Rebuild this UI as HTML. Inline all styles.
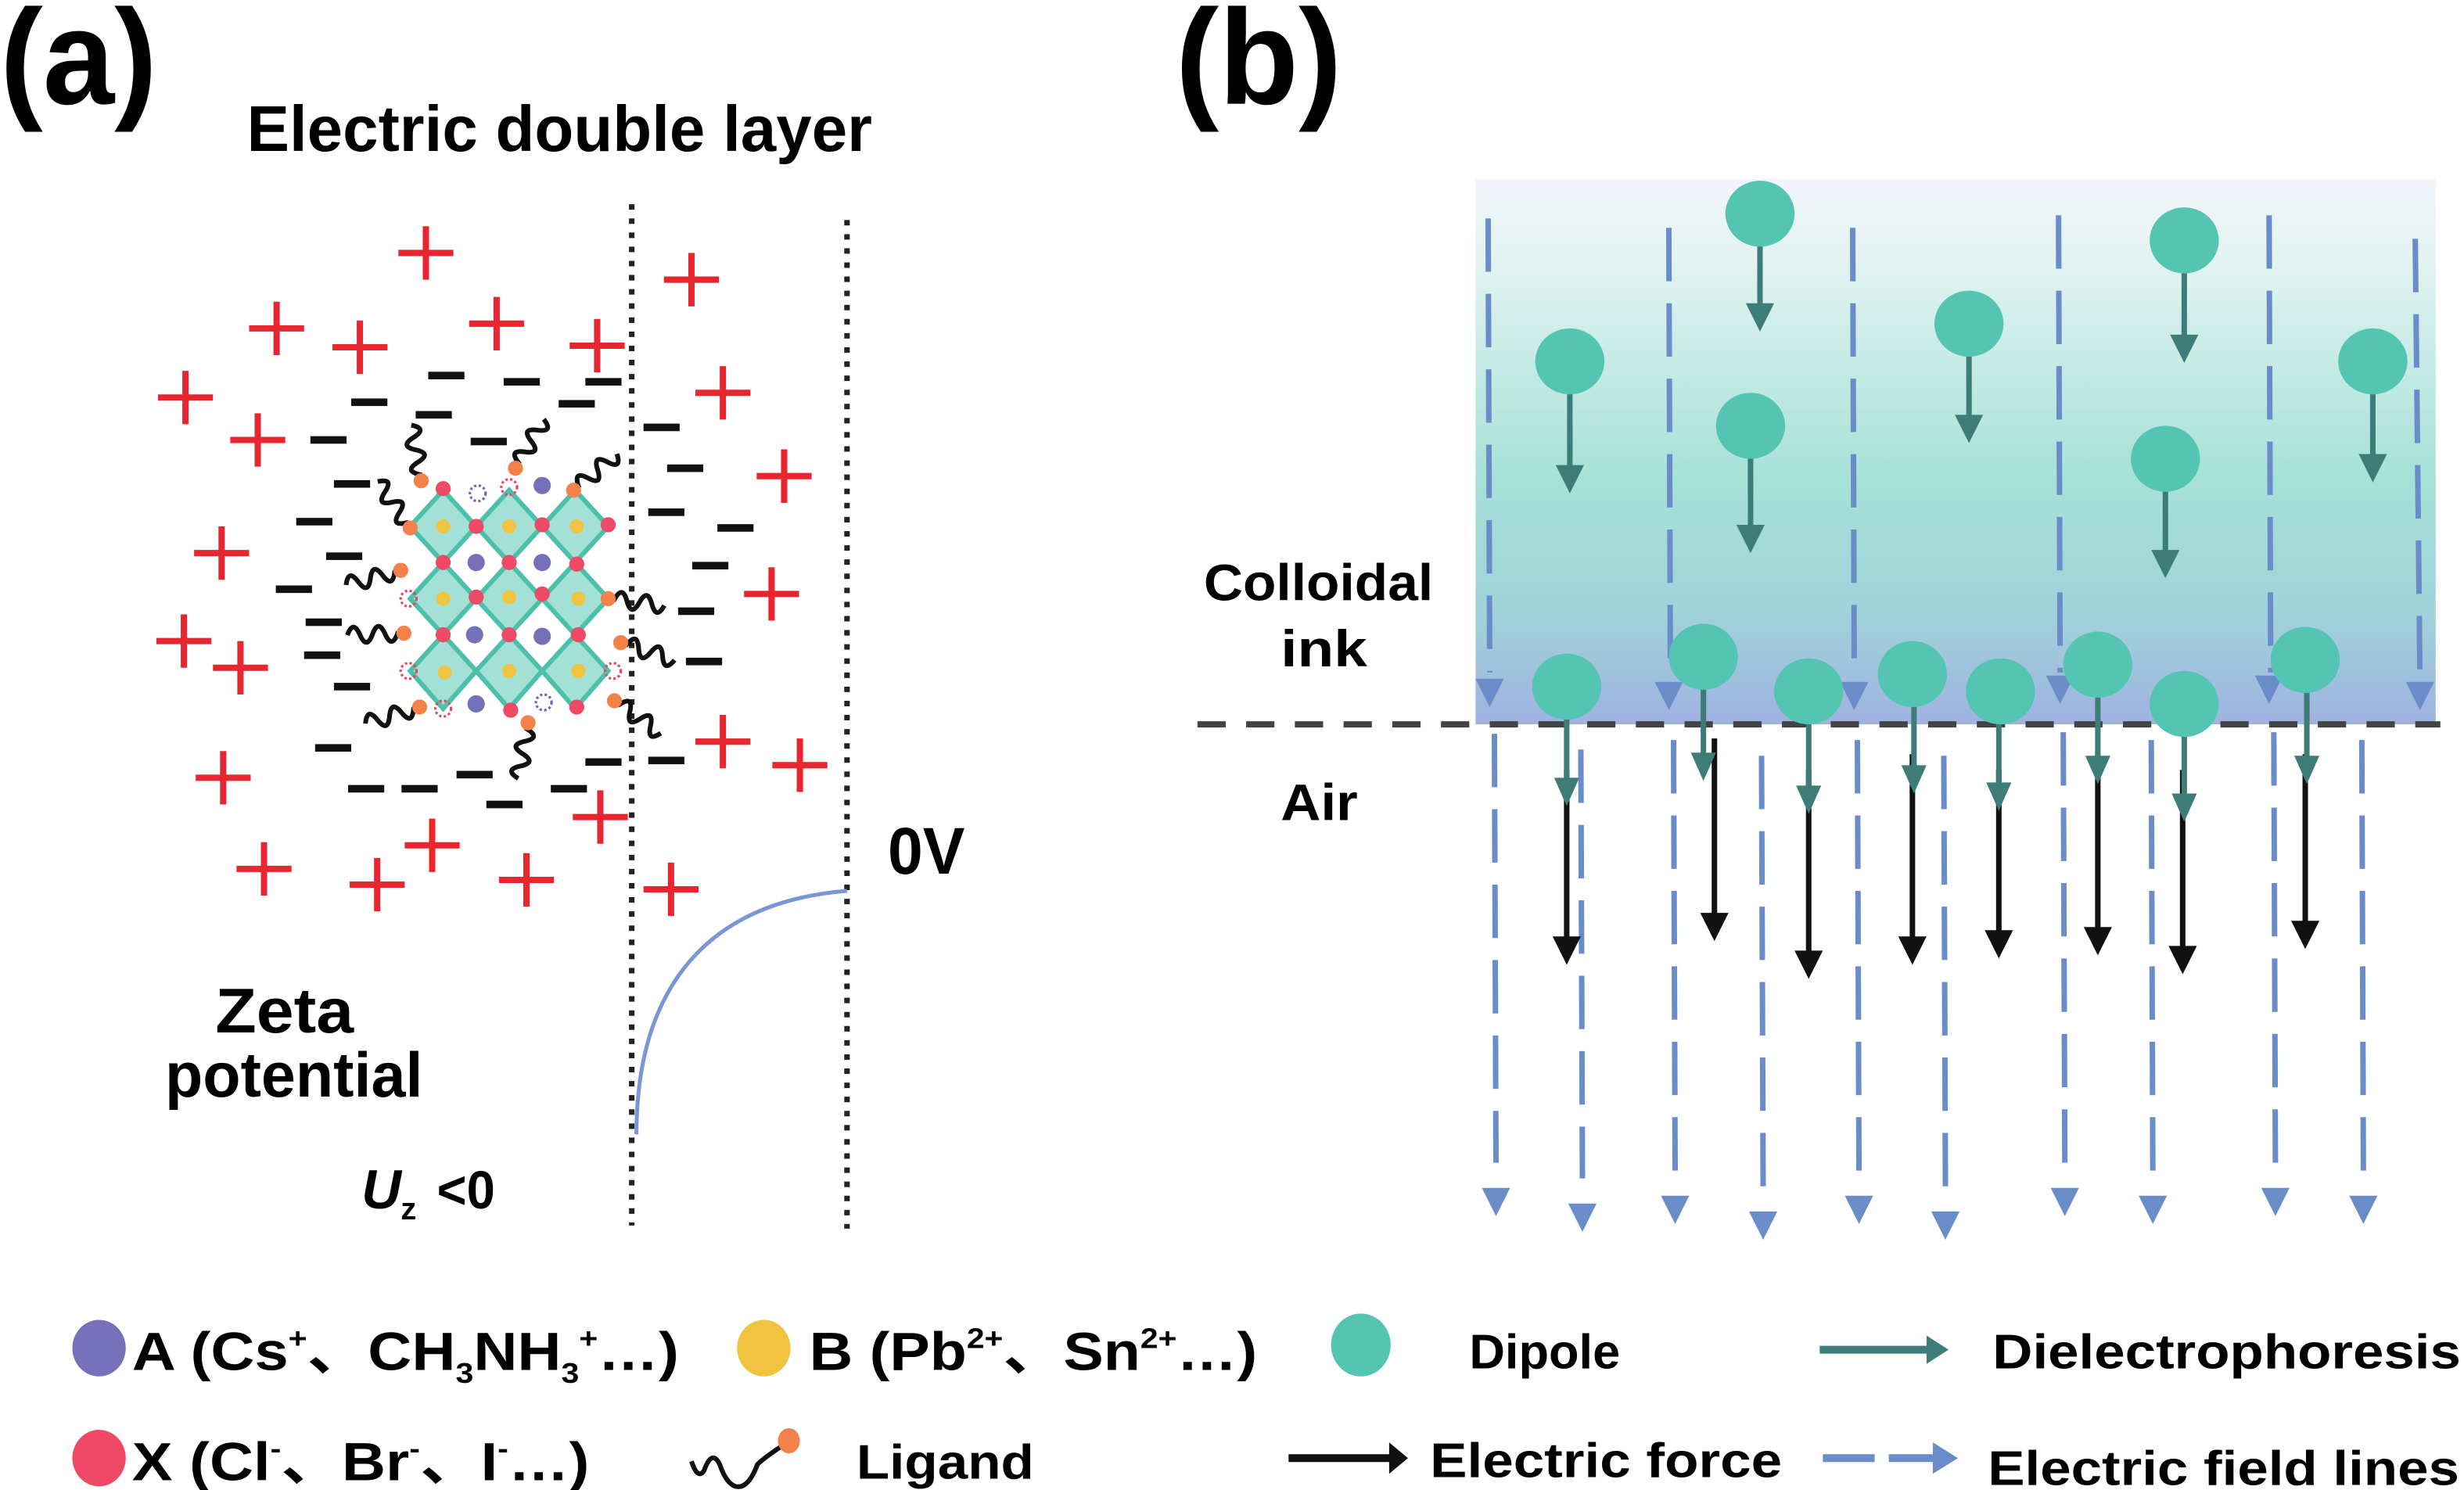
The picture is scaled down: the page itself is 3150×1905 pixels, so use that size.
<!DOCTYPE html>
<html><head><meta charset="utf-8"><style>html,body{margin:0;padding:0;background:#fff}svg{display:block}</style></head>
<body>
<svg xmlns="http://www.w3.org/2000/svg" xmlns:xlink="http://www.w3.org/1999/xlink" width="3150" height="1905" viewBox="0 0 1568 948.3" font-family="'Liberation Sans', 'Noto Sans CJK SC', sans-serif" font-weight="bold">
<defs>
<linearGradient id="g" x1="0" y1="0" x2="0" y2="1">
<stop offset="0" stop-color="#f2f4f9"/><stop offset="0.15" stop-color="#e2f3f1"/><stop offset="0.55" stop-color="#a6e1d7"/><stop offset="0.8" stop-color="#a0d2da"/><stop offset="1" stop-color="#9fb2e0"/>
</linearGradient>
<g id="p"><path d="M-17.5,0H17.5M0,-17V17" stroke="#e8262f" stroke-width="4"/></g>
<rect id="m" x="-11.5" y="-2.4" width="23" height="4.8" fill="#111"/>
<path id="sq" d="M0,0 l4,0 q4,-10 8,0 q4,10 8,0 q4,-10 8,0 q4,10 8,0" fill="none" stroke="#111" stroke-width="3"/>
<path id="th" d="M-9,0H9L0,18Z" fill="#6a8dc9"/>
</defs>
<rect width="1568" height="948.3" fill="#fff"/>

<!-- panel a -->
<text x="0" y="66" font-size="86" textLength="100" lengthAdjust="spacingAndGlyphs">(a)</text>
<text x="157" y="96" font-size="41" textLength="398" lengthAdjust="spacingAndGlyphs">Electric double layer</text>
<line x1="402" y1="130" x2="402" y2="780" stroke="#222" stroke-width="3.5" stroke-dasharray="3.5 5.5"/>
<line x1="539" y1="140" x2="539" y2="782" stroke="#222" stroke-width="3.5" stroke-dasharray="3.5 5.5"/>
<path d="M405,722 C405,640 440,575 539,567" fill="none" stroke="#7b96d6" stroke-width="2.5"/>

<g>
<use xlink:href="#p" x="271" y="161"/><use xlink:href="#p" x="176" y="209"/><use xlink:href="#p" x="229" y="221"/><use xlink:href="#p" x="316" y="206"/><use xlink:href="#p" x="380" y="220"/><use xlink:href="#p" x="440" y="178"/><use xlink:href="#p" x="118" y="253"/><use xlink:href="#p" x="164" y="280"/><use xlink:href="#p" x="460" y="250"/><use xlink:href="#p" x="499" y="303"/><use xlink:href="#p" x="141" y="352"/><use xlink:href="#p" x="491" y="378"/><use xlink:href="#p" x="117" y="408"/><use xlink:href="#p" x="153" y="425"/><use xlink:href="#p" x="460" y="472"/><use xlink:href="#p" x="509" y="487"/><use xlink:href="#p" x="142" y="495"/><use xlink:href="#p" x="382" y="520"/><use xlink:href="#p" x="275" y="538"/><use xlink:href="#p" x="168" y="553"/><use xlink:href="#p" x="240" y="563"/><use xlink:href="#p" x="335" y="560"/><use xlink:href="#p" x="427" y="566"/>
</g>
<g>
<use xlink:href="#m" x="284" y="239"/><use xlink:href="#m" x="332" y="243"/><use xlink:href="#m" x="384" y="243"/><use xlink:href="#m" x="235" y="256"/><use xlink:href="#m" x="367" y="257"/><use xlink:href="#m" x="276" y="264"/><use xlink:href="#m" x="209" y="280"/><use xlink:href="#m" x="311" y="281"/><use xlink:href="#m" x="421" y="272"/><use xlink:href="#m" x="436" y="298"/><use xlink:href="#m" x="224" y="308"/><use xlink:href="#m" x="200" y="332"/><use xlink:href="#m" x="424" y="326"/><use xlink:href="#m" x="468" y="336"/><use xlink:href="#m" x="219" y="354"/><use xlink:href="#m" x="452" y="360"/><use xlink:href="#m" x="187" y="375"/><use xlink:href="#m" x="443" y="389"/><use xlink:href="#m" x="206" y="396"/><use xlink:href="#m" x="205" y="417"/><use xlink:href="#m" x="448" y="421"/><use xlink:href="#m" x="224" y="437"/><use xlink:href="#m" x="212" y="476"/><use xlink:href="#m" x="384" y="485"/><use xlink:href="#m" x="424" y="484"/><use xlink:href="#m" x="302" y="493"/><use xlink:href="#m" x="233" y="502"/><use xlink:href="#m" x="267" y="502"/><use xlink:href="#m" x="362" y="502"/><use xlink:href="#m" x="321" y="512"/>
</g>

<!-- crystal -->
<g fill="#a3e1d6" stroke="#4cc0ab" stroke-width="3">
<path d="M282,312 L303,335 L282,358 L261,335Z"/><path d="M324,312 L345,335 L324,358 L303,335Z"/><path d="M366,312 L387,335 L366,358 L345,335Z"/>
<path d="M282,358 L303,381 L282,404 L261,381Z"/><path d="M324,358 L345,381 L324,404 L303,381Z"/><path d="M366,358 L387,381 L366,404 L345,381Z"/>
<path d="M282,404 L303,427 L282,451 L261,427Z"/><path d="M324,404 L345,427 L324,451 L303,427Z"/><path d="M366,404 L387,427 L366,451 L345,427Z"/>
</g>
<g fill="#f0c43e">
<circle cx="282" cy="335" r="4.5"/><circle cx="324" cy="335" r="4.5"/><circle cx="367" cy="335" r="4.5"/><circle cx="282" cy="381" r="4.5"/><circle cx="324" cy="380" r="4.5"/><circle cx="368" cy="381" r="4.5"/><circle cx="283" cy="428" r="4.5"/><circle cx="324" cy="427" r="4.5"/><circle cx="368" cy="427" r="4.5"/>
</g>
<g fill="#7570b8">
<circle cx="345" cy="309" r="5.5"/><circle cx="303" cy="358" r="5.5"/><circle cx="345" cy="358" r="5.5"/><circle cx="302" cy="404" r="5.5"/><circle cx="345" cy="405" r="5.5"/><circle cx="303" cy="448" r="5.5"/>
</g>
<g fill="#ef4a65">
<circle cx="282" cy="311" r="4.8"/><circle cx="303" cy="335" r="4.8"/><circle cx="345" cy="334" r="4.8"/><circle cx="387" cy="334" r="4.8"/><circle cx="282" cy="358" r="4.8"/><circle cx="324" cy="358" r="4.8"/><circle cx="367" cy="359" r="4.8"/><circle cx="303" cy="380" r="4.8"/><circle cx="345" cy="378" r="4.8"/><circle cx="282" cy="404" r="4.8"/><circle cx="324" cy="404" r="4.8"/><circle cx="368" cy="404" r="4.8"/><circle cx="325" cy="452" r="4.8"/><circle cx="367" cy="450" r="4.8"/>
</g>
<g fill="none" stroke-width="1.6" stroke-dasharray="1.5 1.5">
<circle cx="304" cy="314" r="5" stroke="#6b66b8"/><circle cx="346" cy="447" r="5" stroke="#6b66b8"/>
<circle cx="324" cy="310" r="5" stroke="#e8445e"/><circle cx="260" cy="381" r="5" stroke="#e8445e"/><circle cx="260" cy="427" r="5" stroke="#e8445e"/><circle cx="282" cy="451" r="5" stroke="#e8445e"/><circle cx="390" cy="427" r="5" stroke="#e8445e"/>
</g>
<g>
<use xlink:href="#sq" transform="translate(268,306) rotate(-100)"/>
<use xlink:href="#sq" transform="translate(328,298) rotate(-60)"/>
<use xlink:href="#sq" transform="translate(365,312) rotate(-40)"/>
<use xlink:href="#sq" transform="translate(261,336) rotate(-125)"/>
<use xlink:href="#sq" transform="translate(255,363) rotate(165)"/>
<use xlink:href="#sq" transform="translate(387,381) rotate(7)"/>
<use xlink:href="#sq" transform="translate(257,403) rotate(178)"/>
<use xlink:href="#sq" transform="translate(395,409) rotate(18)"/>
<use xlink:href="#sq" transform="translate(267,450) rotate(163)"/>
<use xlink:href="#sq" transform="translate(391,446) rotate(35)"/>
<use xlink:href="#sq" transform="translate(336,460) rotate(100)"/>
</g>
<g fill="#f3824a">
<circle cx="268" cy="306" r="4.8"/><circle cx="328" cy="298" r="4.8"/><circle cx="365" cy="312" r="4.8"/><circle cx="261" cy="336" r="4.8"/><circle cx="255" cy="363" r="4.8"/><circle cx="387" cy="381" r="4.8"/><circle cx="257" cy="403" r="4.8"/><circle cx="395" cy="409" r="4.8"/><circle cx="267" cy="450" r="4.8"/><circle cx="391" cy="446" r="4.8"/><circle cx="336" cy="460" r="4.8"/>
</g>

<text x="565" y="556" font-size="42" textLength="49" lengthAdjust="spacingAndGlyphs">0V</text>
<text x="137" y="657" font-size="40" textLength="88" lengthAdjust="spacingAndGlyphs">Zeta</text>
<text x="105" y="698" font-size="40" textLength="164" lengthAdjust="spacingAndGlyphs">potential</text>
<text x="230" y="769" font-size="35" font-style="italic">U</text>
<text x="255" y="776" font-size="20">z</text>
<text x="278" y="769" font-size="34" textLength="37" lengthAdjust="spacingAndGlyphs">&lt;0</text>

<!-- panel b -->
<text x="748" y="66" font-size="86" textLength="106" lengthAdjust="spacingAndGlyphs">(b)</text>
<rect x="939" y="114" width="611" height="347" fill="url(#g)"/>
<g stroke="#6a8dc9" stroke-width="3.5" stroke-dasharray="34 14" fill="none">
<line x1="947" y1="139" x2="948" y2="428"/><line x1="1062" y1="145" x2="1063" y2="432"/><line x1="1179" y1="145" x2="1180" y2="432"/><line x1="1310" y1="137" x2="1311" y2="428"/><line x1="1444" y1="137" x2="1445" y2="428"/><line x1="1537" y1="152" x2="1540" y2="432"/>
</g>
<g>
<use xlink:href="#th" x="948" y="432"/><use xlink:href="#th" x="1062" y="434"/><use xlink:href="#th" x="1180" y="434"/><use xlink:href="#th" x="1311" y="430"/><use xlink:href="#th" x="1444" y="430"/><use xlink:href="#th" x="1540" y="434"/>
</g>
<line x1="762" y1="461" x2="1553" y2="461" stroke="#444" stroke-width="4" stroke-dasharray="18 13"/>
<g stroke="#6a8dc9" stroke-width="3.5" stroke-dasharray="34 14" fill="none">
<line x1="951" y1="467" x2="952" y2="740"/><line x1="1006" y1="477" x2="1007" y2="750"/><line x1="1065" y1="471" x2="1066" y2="745"/><line x1="1121" y1="481" x2="1122" y2="755"/><line x1="1182" y1="471" x2="1183" y2="745"/><line x1="1237" y1="481" x2="1238" y2="755"/><line x1="1313" y1="466" x2="1314" y2="740"/><line x1="1369" y1="471" x2="1370" y2="745"/><line x1="1447" y1="466" x2="1448" y2="740"/><line x1="1503" y1="471" x2="1504" y2="745"/>
</g>
<g>
<use xlink:href="#th" x="952" y="756"/><use xlink:href="#th" x="1007" y="766"/><use xlink:href="#th" x="1066" y="761"/><use xlink:href="#th" x="1122" y="771"/><use xlink:href="#th" x="1183" y="761"/><use xlink:href="#th" x="1238" y="771"/><use xlink:href="#th" x="1314" y="756"/><use xlink:href="#th" x="1370" y="761"/><use xlink:href="#th" x="1448" y="756"/><use xlink:href="#th" x="1504" y="761"/>
</g>

<!-- black arrows -->
<g stroke="#111" stroke-width="3.5">
<line x1="997" y1="490" x2="997" y2="600"/><line x1="1091" y1="470" x2="1091" y2="586"/><line x1="1151" y1="490" x2="1151" y2="610"/><line x1="1217" y1="480" x2="1217" y2="600"/><line x1="1272" y1="490" x2="1272" y2="596"/><line x1="1335" y1="480" x2="1335" y2="594"/><line x1="1389" y1="490" x2="1389" y2="606"/><line x1="1467" y1="480" x2="1467" y2="590"/>
</g>
<g fill="#111">
<path d="M988,596H1006L997,614Z"/><path d="M1082,581H1100L1091,599Z"/><path d="M1142,605H1160L1151,623Z"/><path d="M1208,596H1226L1217,614Z"/><path d="M1263,592H1281L1272,610Z"/><path d="M1326,590H1344L1335,608Z"/><path d="M1380,602H1398L1389,620Z"/><path d="M1458,586H1476L1467,604Z"/>
</g>

<!-- teal dipoles -->
<g stroke="#3e7c78" stroke-width="3.5">
<line x1="999" y1="231" x2="999" y2="300"/><line x1="1120" y1="136" x2="1120" y2="198"/><line x1="1253" y1="206" x2="1253" y2="270"/><line x1="1390" y1="153" x2="1390" y2="219"/><line x1="1114" y1="271" x2="1114" y2="340"/><line x1="1510" y1="230" x2="1510" y2="295"/><line x1="1378" y1="292" x2="1378" y2="356"/>
<line x1="997" y1="437" x2="997" y2="500"/><line x1="1084" y1="418" x2="1084" y2="484"/><line x1="1151" y1="440" x2="1151" y2="505"/><line x1="1218" y1="429" x2="1218" y2="492"/><line x1="1272" y1="440" x2="1272" y2="503"/><line x1="1335" y1="423" x2="1335" y2="486"/><line x1="1390" y1="448" x2="1390" y2="510"/><line x1="1468" y1="420" x2="1468" y2="486"/>
</g>
<g fill="#3e7c78">
<path d="M990,296H1008L999,314Z"/><path d="M1111,193H1129L1120,211Z"/><path d="M1244,264H1262L1253,282Z"/><path d="M1381,213H1399L1390,231Z"/><path d="M1105,334H1123L1114,352Z"/><path d="M1501,289H1519L1510,307Z"/><path d="M1369,350H1387L1378,368Z"/>
<path d="M989,495H1005L997,513Z"/><path d="M1076,479H1092L1084,497Z"/><path d="M1143,500H1159L1151,518Z"/><path d="M1210,487H1226L1218,505Z"/><path d="M1264,498H1280L1272,516Z"/><path d="M1327,481H1343L1335,499Z"/><path d="M1382,505H1398L1390,523Z"/><path d="M1460,481H1476L1468,499Z"/>
</g>
<g fill="#55c5b3">
<ellipse cx="999" cy="230" rx="22" ry="21"/><ellipse cx="1120" cy="136" rx="22" ry="21"/><ellipse cx="1253" cy="206" rx="22" ry="21"/><ellipse cx="1390" cy="153" rx="22" ry="21"/><ellipse cx="1114" cy="271" rx="22" ry="21"/><ellipse cx="1510" cy="230" rx="22" ry="21"/><ellipse cx="1378" cy="292" rx="22" ry="21"/>
<ellipse cx="997" cy="437" rx="22" ry="21"/><ellipse cx="1084" cy="418" rx="22" ry="21"/><ellipse cx="1151" cy="440" rx="22" ry="21"/><ellipse cx="1217" cy="429" rx="22" ry="21"/><ellipse cx="1273" cy="440" rx="22" ry="21"/><ellipse cx="1335" cy="423" rx="22" ry="21"/><ellipse cx="1390" cy="448" rx="22" ry="21"/><ellipse cx="1467" cy="420" rx="22" ry="21"/>
</g>

<text x="766" y="382" font-size="33" textLength="146" lengthAdjust="spacingAndGlyphs">Colloidal</text>
<text x="815" y="424" font-size="33" textLength="55" lengthAdjust="spacingAndGlyphs">ink</text>
<text x="815" y="522" font-size="33" textLength="49" lengthAdjust="spacingAndGlyphs">Air</text>

<!-- legend -->
<ellipse cx="63" cy="858" rx="17" ry="18" fill="#7570b8"/>
<text x="84" y="872" font-size="34" textLength="348" lengthAdjust="spacingAndGlyphs">A (Cs<tspan font-size="18" dy="-14">+</tspan><tspan dy="14">、CH</tspan><tspan font-size="18" dy="8">3</tspan><tspan dy="-8">NH</tspan><tspan font-size="18" dy="8">3</tspan><tspan font-size="18" dy="-22">+</tspan><tspan dy="14">…)</tspan></text>
<ellipse cx="486" cy="858" rx="17" ry="18" fill="#f0c43e"/>
<text x="515" y="872" font-size="34" textLength="285" lengthAdjust="spacingAndGlyphs">B (Pb<tspan font-size="18" dy="-14">2+</tspan><tspan dy="14">、Sn</tspan><tspan font-size="18" dy="-14">2+</tspan><tspan dy="14">…)</tspan></text>
<ellipse cx="866" cy="856" rx="19" ry="20" fill="#55c5b3"/>
<text x="935" y="871" font-size="31" textLength="96" lengthAdjust="spacingAndGlyphs">Dipole</text>
<path d="M1158,859H1228" stroke="#3e7c78" stroke-width="5"/><path d="M1226,850L1240,859L1226,868Z" fill="#3e7c78"/>
<text x="1268" y="871" font-size="31" textLength="298" lengthAdjust="spacingAndGlyphs">Dielectrophoresis</text>

<ellipse cx="63" cy="928" rx="17" ry="18" fill="#ef4a65"/>
<text x="84" y="942" font-size="34" textLength="291" lengthAdjust="spacingAndGlyphs">X (Cl<tspan font-size="18" dy="-14">-</tspan><tspan dy="14">、Br</tspan><tspan font-size="18" dy="-14">-</tspan><tspan dy="14">、I</tspan><tspan font-size="18" dy="-14">-</tspan><tspan dy="14">…)</tspan></text>
<path d="M440,930 q4,12 8,6 q5,-14 10,-4 q4,12 10,14 q8,2 14,-14 q4,-4 16,-12" fill="none" stroke="#111" stroke-width="3"/>
<ellipse cx="502" cy="917" rx="7" ry="8" fill="#f3824a"/>
<text x="545" y="941" font-size="31" textLength="113" lengthAdjust="spacingAndGlyphs">Ligand</text>
<path d="M820,928H886" stroke="#111" stroke-width="5"/><path d="M884,918L896,928L884,938Z" fill="#111"/>
<text x="910" y="940" font-size="31" textLength="224" lengthAdjust="spacingAndGlyphs">Electric force</text>
<path d="M1160,928H1193M1202,928H1232" stroke="#6a8dc9" stroke-width="5"/><path d="M1230,918L1246,928L1230,938Z" fill="#6a8dc9"/>
<text x="1265" y="945" font-size="31" textLength="300" lengthAdjust="spacingAndGlyphs">Electric field lines</text>
</svg>
</body></html>
